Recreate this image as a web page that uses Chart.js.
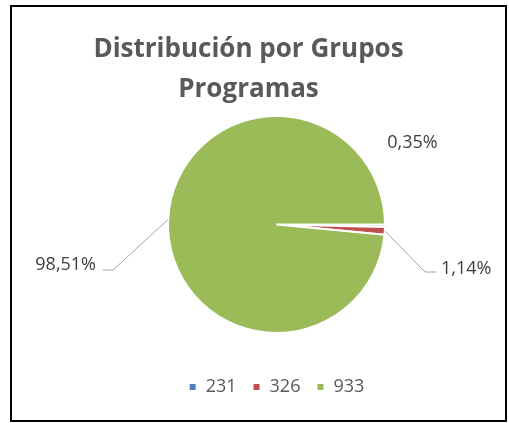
<!DOCTYPE html>
<html>
<head>
<meta charset="utf-8">
<script src="https://cdn.jsdelivr.net/npm/chart.js@4.4.0/dist/chart.umd.min.js"></script>
<style>
body { margin: 0; background: #fff; }
#wrap { position: relative; width: 509px; height: 423px; }
#frame { position: absolute; left: 10px; top: 5px; width: 497px; height: 417px; box-sizing: border-box; border: 2px solid #000; pointer-events: none; }
</style>
</head>
<body>
<div id="wrap">
<canvas id="groupsPie" width="509" height="423"></canvas>
<div id="frame"></div>
</div>
<script>
var groups = ['231', '326', '933'];
var shares = [0.35, 1.14, 98.51];
var sliceColors = ['#4F81BD', '#C0504D', '#9BBB59'];

// where each percentage label sits, relative to the pie centre
var labelSpots = [
  { text: [136, -76.5], align: 'center' },
  { elbow: [148.5, 47.5], end: [159.5, 47.5], text: [164.5, 49.5], align: 'left' },
  { elbow: [-163.5, 45.5], end: [-173.5, 45.5], text: [-180.5, 45.5], align: 'right' }
];

// empty box on the left so the pie sits right of the title centre
var leftGap = {
  id: 'leftGap',
  beforeInit: function(chart) {
    Chart.layouts.addBox(chart, {
      position: 'left', weight: 0, fullSize: false, options: {},
      isHorizontal: function() { return false; },
      update: function() { this.width = 56; this.height = 0; },
      draw: function() {}
    });
  }
};

var pieLabels = {
  id: 'pieLabels',
  afterDatasetsDraw: function(chart) {
    var ctx = chart.ctx;
    var meta = chart.getDatasetMeta(0);
    var values = chart.data.datasets[0].data;
    ctx.save();
    ctx.font = '18px "Open Sans"';
    ctx.fillStyle = '#404040';
    ctx.strokeStyle = '#A6A6A6';
    ctx.lineWidth = 1;
    meta.data.forEach(function(arc, i) {
      var p = arc.getProps(['x', 'y', 'startAngle', 'endAngle', 'outerRadius'], true);
      var spot = labelSpots[i];
      if (spot.elbow) {
        var mid = (p.startAngle + p.endAngle) / 2;
        ctx.beginPath();
        ctx.moveTo(p.x + Math.cos(mid) * p.outerRadius, p.y + Math.sin(mid) * p.outerRadius);
        ctx.lineTo(p.x + spot.elbow[0], p.y + spot.elbow[1]);
        ctx.lineTo(p.x + spot.end[0], p.y + spot.end[1]);
        ctx.stroke();
      }
      ctx.textAlign = spot.align;
      ctx.textBaseline = 'alphabetic';
      ctx.fillText(values[i].toFixed(2).replace('.', ',') + '%', p.x + spot.text[0], p.y + spot.text[1]);
    });
    ctx.restore();
  }
};

new Chart(document.getElementById('groupsPie'), {
  type: 'pie',
  data: {
    labels: groups,
    datasets: [{
      data: shares,
      backgroundColor: sliceColors,
      borderColor: '#ffffff',
      borderWidth: 2
    }]
  },
  options: {
    responsive: false,
    animation: false,
    rotation: 90,
    radius: 108.5,
    layout: { padding: { left: 0, right: 12, top: 0, bottom: 17 } },
    plugins: {
      title: {
        display: true,
        text: ['Distribución por Grupos', 'Programas'],
        color: '#595959',
        font: { family: '"Open Sans"', size: 26, weight: 'bold', lineHeight: '40px' },
        padding: { top: 30, bottom: -23 }
      },
      legend: {
        position: 'bottom',
        fullSize: false,
        labels: {
          boxWidth: 8,
          boxHeight: 8,
          padding: 16,
          color: '#595959',
          font: { family: '"Open Sans"', size: 18 }
        }
      },
      tooltip: { enabled: false }
    }
  },
  plugins: [leftGap, pieLabels]
});
</script>
</body>
</html>
